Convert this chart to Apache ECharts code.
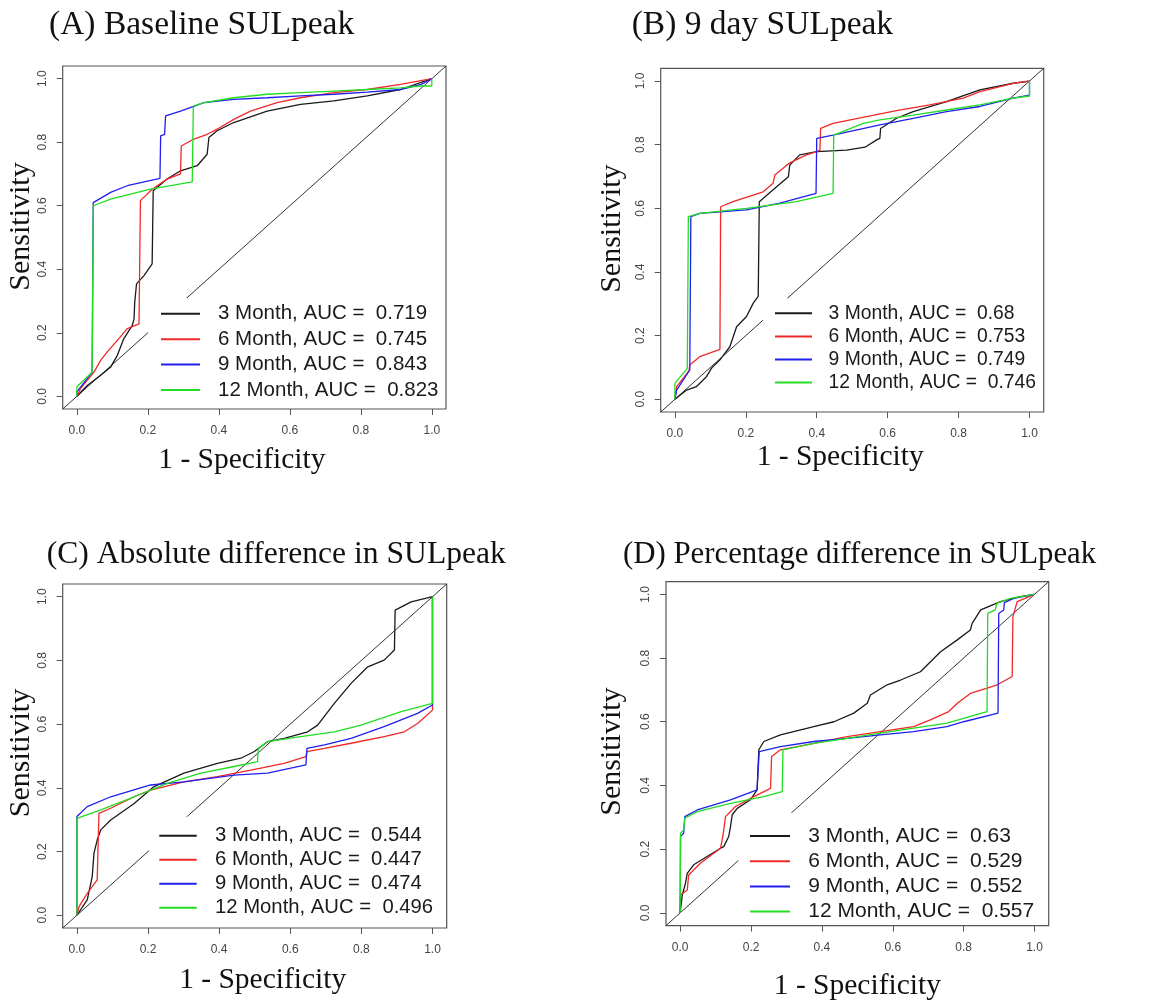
<!DOCTYPE html>
<html>
<head>
<meta charset="utf-8">
<script src="https://cdn.jsdelivr.net/npm/echarts@6/dist/echarts.min.js"></script>
<style>
html,body{margin:0;padding:0;background:#fff;}
#chart{width:1162px;height:1004px;}
</style>
</head>
<body>
<div id="chart"></div>
<script>
// ---------------- DATA ----------------
const panelTitles = ['(A) Baseline SULpeak', '(B) 9 day SULpeak', '(C) Absolute difference in SULpeak', '(D) Percentage difference in SULpeak'];
const seriesLabels = ['3 Month', '6 Month', '9 Month', '12 Month'];
const aucBaseline = ['0.719', '0.745', '0.843', '0.823'];
const aucDay9 = ['0.68', '0.753', '0.749', '0.746'];
const aucAbsDiff = ['0.544', '0.447', '0.474', '0.496'];
const aucPctDiff = ['0.63', '0.529', '0.552', '0.557'];
const tickValues = [0, 0.2, 0.4, 0.6, 0.8, 1.0];
const tickLabels = ['0.0', '0.2', '0.4', '0.6', '0.8', '1.0'];
const xAxisTitle = '1 - Specificity';
const yAxisTitle = 'Sensitivity';
const referenceLine = [[-0.04, -0.04], [1.04, 1.04]];

// (A) Baseline SULpeak
const baseline3M = [[0,0],[0.03,0.035],[0.067,0.066],[0.095,0.092],[0.114,0.129],[0.132,0.181],[0.156,0.223],[0.161,0.244],[0.163,0.296],[0.168,0.354],[0.189,0.38],[0.212,0.417],[0.215,0.647],[0.254,0.684],[0.292,0.71],[0.339,0.726],[0.367,0.762],[0.372,0.815],[0.395,0.836],[0.442,0.862],[0.536,0.898],[0.63,0.919],[0.724,0.93],[0.818,0.946],[0.912,0.966],[1,1]];
const baseline6M = [[0,0],[0.01,0.024],[0.048,0.076],[0.067,0.113],[0.085,0.139],[0.114,0.176],[0.142,0.213],[0.175,0.228],[0.179,0.616],[0.212,0.652],[0.254,0.684],[0.292,0.7],[0.294,0.788],[0.33,0.81],[0.367,0.825],[0.395,0.841],[0.442,0.872],[0.489,0.898],[0.564,0.925],[0.63,0.94],[0.724,0.956],[0.818,0.966],[0.912,0.982],[1,1]];
const baseline9M = [[0,0],[0,0.014],[0.043,0.076],[0.046,0.61],[0.095,0.642],[0.142,0.663],[0.234,0.686],[0.236,0.82],[0.247,0.825],[0.25,0.883],[0.292,0.898],[0.358,0.925],[0.442,0.935],[0.536,0.94],[0.63,0.946],[0.724,0.951],[0.818,0.958],[0.912,0.966],[0.97,0.982],[1,1]];
const baseline12M = [[0,0],[0,0.03],[0.043,0.076],[0.046,0.6],[0.095,0.621],[0.207,0.652],[0.325,0.675],[0.328,0.914],[0.358,0.925],[0.442,0.94],[0.536,0.951],[0.63,0.956],[0.724,0.961],[0.818,0.966],[0.912,0.971],[0.968,0.977],[1,0.977],[1,1]];

// (B) 9 day SULpeak
const day9_3M = [[0,0],[0.033,0.029],[0.061,0.04],[0.089,0.071],[0.103,0.097],[0.127,0.124],[0.155,0.165],[0.174,0.228],[0.202,0.26],[0.221,0.302],[0.235,0.323],[0.238,0.621],[0.277,0.658],[0.32,0.699],[0.324,0.736],[0.352,0.768],[0.4,0.778],[0.484,0.783],[0.536,0.792],[0.569,0.815],[0.578,0.82],[0.58,0.851],[0.625,0.883],[0.672,0.904],[0.766,0.935],[0.86,0.972],[0.954,0.993],[1,1]];
const day9_6M = [[0,0],[0.005,0.04],[0.04,0.09],[0.042,0.108],[0.07,0.134],[0.127,0.157],[0.129,0.605],[0.164,0.621],[0.249,0.652],[0.277,0.679],[0.282,0.705],[0.324,0.743],[0.371,0.768],[0.4,0.778],[0.409,0.783],[0.411,0.851],[0.446,0.867],[0.54,0.888],[0.625,0.907],[0.719,0.925],[0.813,0.946],[0.86,0.967],[0.954,0.993],[1,1]];
const day9_9M = [[0,0],[0.005,0.029],[0.042,0.092],[0.045,0.574],[0.07,0.584],[0.202,0.595],[0.296,0.616],[0.398,0.647],[0.4,0.82],[0.446,0.83],[0.578,0.862],[0.672,0.883],[0.766,0.904],[0.86,0.92],[0.954,0.946],[1,0.956],[1,1]];
const day9_12M = [[0,0],[0,0.05],[0.035,0.097],[0.038,0.574],[0.07,0.584],[0.202,0.6],[0.343,0.621],[0.446,0.647],[0.448,0.83],[0.531,0.867],[0.578,0.878],[0.672,0.893],[0.766,0.909],[0.86,0.925],[0.954,0.946],[1,0.953],[1,1]];

// (C) Absolute difference in SULpeak
const absDiff3M = [[0,0],[0.029,0.048],[0.043,0.121],[0.048,0.195],[0.057,0.236],[0.067,0.268],[0.095,0.299],[0.161,0.351],[0.217,0.404],[0.301,0.446],[0.395,0.477],[0.461,0.493],[0.499,0.514],[0.536,0.545],[0.583,0.555],[0.649,0.576],[0.677,0.597],[0.724,0.665],[0.771,0.728],[0.818,0.78],[0.864,0.801],[0.893,0.833],[0.895,0.958],[0.94,0.984],[1,1]];
const absDiff6M = [[0,0],[0.006,0.027],[0.029,0.069],[0.057,0.111],[0.062,0.32],[0.095,0.336],[0.161,0.372],[0.207,0.393],[0.301,0.419],[0.395,0.435],[0.489,0.456],[0.583,0.477],[0.644,0.498],[0.647,0.514],[0.696,0.524],[0.771,0.54],[0.864,0.561],[0.921,0.576],[0.959,0.603],[1,0.644],[1,1]];
const absDiff9M = [[0,0],[0,0.31],[0.029,0.341],[0.095,0.372],[0.207,0.409],[0.301,0.419],[0.442,0.44],[0.536,0.446],[0.644,0.472],[0.647,0.524],[0.696,0.535],[0.771,0.555],[0.864,0.592],[0.958,0.634],[1,0.66],[1,1]];
const absDiff12M = [[0,0],[0,0.304],[0.067,0.331],[0.161,0.372],[0.254,0.414],[0.348,0.446],[0.442,0.467],[0.508,0.482],[0.51,0.524],[0.536,0.545],[0.63,0.561],[0.724,0.576],[0.799,0.597],[0.912,0.639],[1,0.665],[1,1]];

// (D) Percentage difference in SULpeak
const pctDiff3M = [[0,0],[0.006,0.056],[0.015,0.093],[0.02,0.124],[0.038,0.151],[0.076,0.177],[0.114,0.203],[0.123,0.208],[0.137,0.24],[0.142,0.271],[0.147,0.308],[0.161,0.328],[0.198,0.355],[0.217,0.386],[0.222,0.512],[0.236,0.538],[0.283,0.559],[0.377,0.585],[0.434,0.6],[0.49,0.627],[0.528,0.658],[0.537,0.684],[0.584,0.716],[0.622,0.731],[0.678,0.757],[0.735,0.82],[0.782,0.857],[0.819,0.888],[0.824,0.909],[0.848,0.951],[0.904,0.977],[0.96,0.993],[1,1]];
const pctDiff6M = [[0,0],[0.001,0.056],[0.02,0.072],[0.024,0.119],[0.057,0.156],[0.114,0.203],[0.121,0.245],[0.128,0.302],[0.156,0.334],[0.208,0.365],[0.255,0.391],[0.258,0.491],[0.283,0.512],[0.377,0.532],[0.471,0.553],[0.565,0.569],[0.659,0.585],[0.706,0.606],[0.758,0.632],[0.782,0.658],[0.819,0.689],[0.895,0.716],[0.937,0.742],[0.939,0.93],[0.951,0.977],[1,1]];
const pctDiff9M = [[0,0],[0.001,0.24],[0.01,0.25],[0.013,0.302],[0.048,0.323],[0.142,0.355],[0.217,0.386],[0.223,0.506],[0.283,0.522],[0.377,0.538],[0.471,0.548],[0.565,0.559],[0.659,0.569],[0.753,0.585],[0.8,0.6],[0.897,0.627],[0.899,0.94],[0.913,0.951],[0.915,0.974],[0.941,0.987],[1,1]];
const pctDiff12M = [[0,0],[0.001,0.25],[0.01,0.26],[0.013,0.297],[0.048,0.318],[0.142,0.344],[0.236,0.365],[0.288,0.381],[0.29,0.512],[0.377,0.532],[0.471,0.548],[0.565,0.564],[0.659,0.58],[0.753,0.596],[0.866,0.632],[0.868,0.94],[0.889,0.951],[0.894,0.972],[0.932,0.987],[1,1]];

// ---------------- LAYOUT / STYLE ----------------
const curveColors = ['#1a1a1a', '#f02828', '#1f1fee', '#22dd22'];
const panelData = [
  { curves: [baseline3M, baseline6M, baseline9M, baseline12M], auc: aucBaseline },
  { curves: [day9_3M, day9_6M, day9_9M, day9_12M], auc: aucDay9 },
  { curves: [absDiff3M, absDiff6M, absDiff9M, absDiff12M], auc: aucAbsDiff },
  { curves: [pctDiff3M, pctDiff6M, pctDiff9M, pctDiff12M], auc: aucPctDiff }
];
const layout = [
  { grid: [62.7, 66, 383.3, 343], title: [49, 8], titleSize: 33.5, xGap: 36, xPad: [0, 25, 0, 0], yGap: 27, yPad: [0, 0, 0, 22],
    legend: { left: 148, top: 298, pad: [5.3, 4, 6, 13], font: 20.5, lh: 20, gap: 4.4, iw: 39, tgap: 13 } },
  { grid: [660.7, 68.3, 383, 343.7], title: [631.7, 8], titleSize: 33.5, xGap: 30, xPad: [0, 24, 0, 0], yGap: 33.5, yPad: [0, 0, 0, 23],
    legend: { left: 763, top: 298.3, pad: [5, 4, 6, 12], font: 19.3, lh: 20, gap: 3.1, iw: 37, tgap: 11.6 } },
  { grid: [62.7, 584, 384, 344], title: [46.7, 539], titleSize: 31.6, xGap: 37, xPad: [0, 0, 0, 16], yGap: 27, yPad: [0, 0, 0, 6],
    legend: { left: 149, top: 816.7, pad: [9, 4, 3, 10.3], font: 20.3, lh: 20, gap: 4, iw: 37.4, tgap: 13.3 } },
  { grid: [666, 581.6, 382.7, 344], title: [623, 539], titleSize: 30.8, xGap: 46, xPad: [0, 0, 0, 0], yGap: 39, yPad: [0, 0, 0, 4],
    legend: { left: 738.3, top: 812.7, pad: [12.8, 4, 0, 11.7], font: 21, lh: 21, gap: 4.2, iw: 40, tgap: 13.3 } }
];

const option = {
  backgroundColor: '#ffffff',
  animation: false,
  title: [], grid: [], xAxis: [], yAxis: [], legend: [], series: []
};

panelData.forEach((p, i) => {
  const L = layout[i];
  option.title.push({
    text: panelTitles[i], left: L.title[0], top: L.title[1], padding: 0,
    textStyle: { fontFamily: 'Liberation Serif', fontSize: L.titleSize, fontWeight: 'normal', color: '#111' }
  });
  option.grid.push({
    left: L.grid[0], top: L.grid[1], width: L.grid[2], height: L.grid[3],
    show: true, borderColor: '#555', borderWidth: 1.2, backgroundColor: 'transparent'
  });
  const axisCommon = {
    type: 'value', min: -0.04, max: 1.04, gridIndex: i,
    splitLine: { show: false },
    axisLine: { show: false, onZero: false },
    axisTick: { show: true, inside: false, length: 6, customValues: tickValues, lineStyle: { color: '#555', width: 1 } },
    axisLabel: {
      customValues: tickValues,
      formatter: v => tickLabels[tickValues.findIndex(t => Math.abs(t - v) < 1e-9)],
      fontFamily: 'Liberation Sans', fontSize: 12, color: '#444'
    },
    nameLocation: 'middle'
  };
  option.xAxis.push(Object.assign({}, axisCommon, {
    position: 'bottom',
    axisLabel: Object.assign({}, axisCommon.axisLabel, { margin: 16 }),
    name: xAxisTitle, nameGap: L.xGap,
    nameTextStyle: { fontFamily: 'Liberation Serif', fontSize: 29.5, color: '#111', padding: L.xPad }
  }));
  option.yAxis.push(Object.assign({}, axisCommon, {
    position: 'left',
    axisLabel: Object.assign({}, axisCommon.axisLabel, { margin: 14, rotate: 90 }),
    name: yAxisTitle, nameGap: L.yGap,
    nameTextStyle: { fontFamily: 'Liberation Serif', fontSize: 30, color: '#111', padding: L.yPad }
  }));
  // reference diagonal (y = x)
  option.series.push({
    type: 'line', name: 'reference' + i, xAxisIndex: i, yAxisIndex: i,
    data: referenceLine, showSymbol: false, silent: true, z: 1,
    lineStyle: { color: '#333', width: 1 }
  });
  const names = [];
  p.curves.forEach((c, k) => {
    const nm = seriesLabels[k] + ', AUC =  ' + p.auc[k];
    names.push(nm);
    option.series.push({
      type: 'line', name: nm, xAxisIndex: i, yAxisIndex: i, data: c,
      showSymbol: false, symbol: 'none', z: 2 + k,
      itemStyle: { color: curveColors[k] },
      lineStyle: { color: curveColors[k], width: 1.3 }
    });
  });
  const lg = L.legend;
  option.legend.push({
    data: names, orient: 'vertical', left: lg.left, top: lg.top, padding: lg.pad,
    backgroundColor: '#ffffff', selectedMode: false,
    icon: 'rect', itemWidth: lg.iw, itemHeight: 2, itemGap: lg.gap,
    textStyle: { fontFamily: 'Liberation Sans', fontSize: lg.font, color: '#1a1a1a', lineHeight: lg.lh, padding: [0, 0, 0, lg.tgap] },
    z: 10
  });
});

const chart = echarts.init(document.getElementById('chart'), null, { renderer: 'canvas' });
chart.setOption(option);
</script>
</body>
</html>
